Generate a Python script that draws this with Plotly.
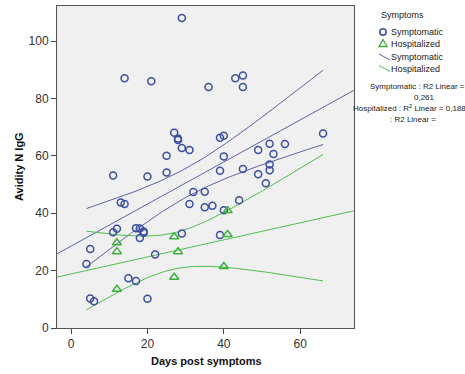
import math
import numpy as np
import plotly.graph_objects as go

# ---------------- data ----------------
sym_days = [29, 14, 21, 36, 43, 45, 45, 27, 28, 28, 29, 31, 25, 39, 40, 40, 49, 52, 53, 56,
            66, 52, 52, 11, 20, 25, 13, 14, 32, 35, 31, 35, 37, 12, 11, 17, 18, 19, 19, 18,
            29, 5, 4, 22, 15, 17, 5, 6, 20, 39, 45, 49, 51, 44, 40, 39]
sym_avidity = [108, 87, 86, 84, 87, 88, 84, 68, 66, 65.5, 62.7, 62, 60, 66.3, 67, 59.8, 62, 64.2, 60.6, 64.1,
               67.8, 57, 55, 53.1, 52.8, 54.2, 43.7, 43.2, 47.4, 47.5, 43.2, 42.1, 42.6, 34.6, 33.4, 34.8, 34.7, 33.6, 33.2, 31.4,
               32.9, 27.5, 22.3, 25.6, 17.3, 16.4, 10.3, 9.3, 10.2, 54.8, 55.4, 53.6, 50.4, 44.5, 41.0, 32.4]
hosp_days = [12, 12, 12, 27, 28, 27, 41, 41, 40]
hosp_avidity = [29.7, 26.6, 13.5, 31.8, 26.6, 17.7, 40.9, 32.6, 21.4]

group_names = ["Symptomatic", "Hospitalized"]
r2_labels = ["0,261", "0,188"]
x_ticks = [0, 20, 40, 60]
y_ticks = [0, 20, 40, 60, 80, 100]

# ---------------- style ----------------
BLUE = "rgb(58,78,160)"
BLUE_L = "rgb(90,100,170)"
GREEN = "rgb(60,175,60)"
GREEN_L = "rgb(80,190,80)"
FONT = "Liberation Sans, Arial, sans-serif"
X_RANGE = [-3.7, 74.1]
Y_RANGE = [0, 112.2]

L, R, T, B = 57, 111, 6, 46
W, H = 465, 374
PW, PH = W - L - R, H - T - B


def px2x(px):
    return (px - L) / PW


def py2y(py):
    return (H - B - py) / PH


def t_quantile(p, df):
    # inverse CDF of Student t via bisection on numeric integral of pdf
    c = math.exp(math.lgamma((df + 1) / 2) - math.lgamma(df / 2)) / math.sqrt(df * math.pi)

    def cdf(t):
        xs = np.linspace(0, t, 4001)
        pdf = c * (1 + xs ** 2 / df) ** (-(df + 1) / 2)
        return 0.5 + np.trapezoid(pdf, xs)

    lo, hi = 0.0, 50.0
    for _ in range(80):
        mid = (lo + hi) / 2
        if cdf(mid) < p:
            lo = mid
        else:
            hi = mid
    return (lo + hi) / 2


def fit(xv, yv):
    x = np.asarray(xv, float)
    y = np.asarray(yv, float)
    n = len(x)
    b, a = np.polyfit(x, y, 1)
    resid = y - (a + b * x)
    s = math.sqrt((resid ** 2).sum() / (n - 2))
    sxx = ((x - x.mean()) ** 2).sum()
    tq = t_quantile(0.975, n - 2)
    return a, b, s, sxx, x.mean(), n, tq


all_x = sym_days + hosp_days
ci_grid = np.linspace(min(all_x), max(all_x), 200)
line_grid = np.linspace(X_RANGE[0], X_RANGE[1], 50)

fig = go.Figure()

groups = [(sym_days, sym_avidity, BLUE, BLUE_L, "circle-open", 7),
          (hosp_days, hosp_avidity, GREEN, GREEN_L, "triangle-up-open", 8)]

for (xs, ys, col, lcol, sym, sz), name in zip(groups, group_names):
    a, b, s, sxx, xm, n, tq = fit(xs, ys)
    fig.add_trace(go.Scatter(x=line_grid, y=a + b * line_grid, mode="lines",
                             line=dict(color=lcol, width=1), showlegend=False, hoverinfo="skip"))
    se = s * np.sqrt(1 / n + (ci_grid - xm) ** 2 / sxx)
    yhat = a + b * ci_grid
    for sign in (1, -1):
        fig.add_trace(go.Scatter(x=ci_grid, y=yhat + sign * tq * se, mode="lines",
                                 line=dict(color=lcol, width=1), showlegend=False, hoverinfo="skip"))

for (xs, ys, col, lcol, sym, sz), name in zip(groups, group_names):
    fig.add_trace(go.Scatter(x=xs, y=ys, mode="markers", name=name,
                             marker=dict(symbol=sym, size=sz, color=col, line=dict(width=1.5, color=col)),
                             showlegend=False))

# ---------------- manual legend ----------------
shapes = []
annots = []
annots.append(dict(x=px2x(402), y=py2y(15), xref="paper", yref="paper", text="Symptoms",
                   showarrow=False, font=dict(size=9, color="#222", family=FONT), xanchor="center", yanchor="middle"))
# marker glyphs
r = 3.2
shapes.append(dict(type="circle", xref="paper", yref="paper",
                   x0=px2x(383 - r), x1=px2x(383 + r), y0=py2y(32 + r), y1=py2y(32 - r),
                   line=dict(color=BLUE, width=1.5)))
tri = "M {} {} L {} {} L {} {} Z".format(px2x(383), py2y(39.5), px2x(379), py2y(46.5), px2x(387), py2y(46.5))
shapes.append(dict(type="path", xref="paper", yref="paper", path=tri, line=dict(color=GREEN, width=1.3)))
shapes.append(dict(type="line", xref="paper", yref="paper", x0=px2x(379), y0=py2y(54), x1=px2x(390), y1=py2y(60),
                   line=dict(color=BLUE_L, width=1)))
shapes.append(dict(type="line", xref="paper", yref="paper", x0=px2x(379), y0=py2y(65.5), x1=px2x(390), y1=py2y(71.5),
                   line=dict(color=GREEN_L, width=1)))
for py, txt in zip([32, 43.5, 57, 69.5], group_names + group_names):
    annots.append(dict(x=px2x(389), y=py2y(py), xref="paper", yref="paper", text=txt, showarrow=False,
                       font=dict(size=9, color="#222", family=FONT), xanchor="left", yanchor="middle"))

r2_lines = [(f"{group_names[0]} : R2 Linear =", 417, 86),
            (r2_labels[0], 424, 97),
            (f"{group_names[1]} : R<sup>2</sup> Linear = {r2_labels[1]}", 409, 108),
            (": R2 Linear =", 413, 119)]
for txt, px, py in r2_lines:
    annots.append(dict(x=px2x(px), y=py2y(py), xref="paper", yref="paper", text=txt, showarrow=False,
                       font=dict(size=8, color="#222", family=FONT), xanchor="center", yanchor="middle"))

# axis titles
annots.append(dict(x=px2x(206), y=py2y(361), xref="paper", yref="paper", text="<b>Days post symptoms</b>",
                   showarrow=False, font=dict(size=11, color="#111", family=FONT), xanchor="center", yanchor="middle"))
annots.append(dict(x=px2x(19), y=py2y(167), xref="paper", yref="paper", text="<b>Avidity N IgG</b>",
                   showarrow=False, textangle=-90, font=dict(size=11, color="#111", family=FONT),
                   xanchor="center", yanchor="middle"))

fig.update_layout(
    width=W, height=H,
    margin=dict(l=L, r=R, t=T, b=B),
    paper_bgcolor="white",
    plot_bgcolor="rgb(240,240,240)",
    font=dict(family=FONT, size=11, color="#333"),
    shapes=shapes,
    annotations=annots,
    showlegend=False,
)
fig.update_xaxes(range=X_RANGE, tickvals=x_ticks, ticks="outside", ticklen=5, tickcolor="#444",
                 showgrid=False, zeroline=False, showline=True, linecolor="#555", linewidth=1, mirror=True,
                 tickfont=dict(size=12, color="#333"))
fig.update_yaxes(range=Y_RANGE, tickvals=y_ticks, ticks="outside", ticklen=5, tickcolor="#444",
                 showgrid=False, zeroline=False, showline=True, linecolor="#555", linewidth=1, mirror=True,
                 tickfont=dict(size=12, color="#333"))

fig.write_html("out.html", config={"displayModeBar": False},
               post_script="document.body.style.margin='0';document.body.style.overflow='hidden';")
